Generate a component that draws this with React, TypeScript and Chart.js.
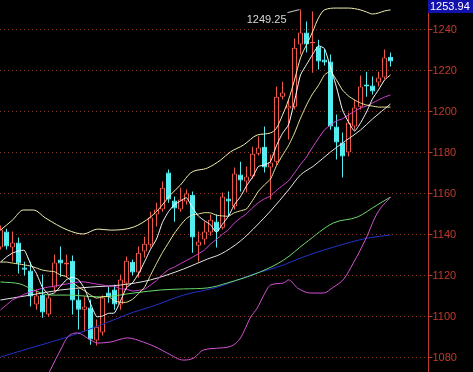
import React, { useEffect, useRef } from "react";
import { Chart, registerables } from "chart.js";

Chart.register(...registerables);

// ---- candle data (one entry per trading day) ----
const opens = [
  1133.2, 1141.0, 1133.2, 1135.6, 1123.4, 1122.0, 1105.4, 1110.2, 1100.5, 1113.7,
  1127.3, 1124.9, 1126.8, 1107.8, 1102.9, 1103.9, 1087.8, 1091.7, 1111.2, 1112.7,
  1105.4, 1115.6, 1126.3, 1121.0, 1131.2, 1134.6, 1149.3, 1151.7, 1169.8, 1156.1,
  1151.7, 1155.6, 1159.0, 1134.1, 1137.1, 1140.5, 1145.9, 1142.9, 1157.1, 1153.2,
  1168.8, 1165.4, 1167.8, 1179.0, 1182.4, 1172.2, 1175.1, 1206.8, 1201.0, 1201.9,
  1232.2, 1238.1, 1232.7, 1231.2, 1224.9, 1223.9, 1192.2, 1184.4, 1179.5, 1192.2,
  1201.9, 1212.7, 1212.2, 1213.7, 1216.1, 1226.3,
];
const closes = [
  1142.0, 1133.7, 1135.6, 1125.4, 1122.4, 1109.3, 1109.8, 1101.5, 1108.8, 1125.9,
  1125.4, 1125.9, 1107.3, 1102.9, 1104.4, 1088.3, 1094.6, 1108.8, 1109.3, 1105.4,
  1117.6, 1126.8, 1121.0, 1130.7, 1135.1, 1147.8, 1151.7, 1162.4, 1156.6, 1152.2,
  1156.6, 1159.5, 1138.1, 1136.1, 1141.0, 1146.8, 1141.0, 1158.1, 1155.6, 1169.3,
  1165.9, 1167.8, 1179.0, 1182.0, 1172.2, 1174.7, 1206.8, 1208.8, 1202.4, 1230.7,
  1238.1, 1232.2, 1233.4, 1223.9, 1223.4, 1192.2, 1184.4, 1177.6, 1194.2, 1201.5,
  1211.7, 1211.7, 1209.3, 1216.1, 1225.9, 1223.9,
];
const highs = [
  1143.9, 1142.4, 1141.0, 1138.1, 1126.3, 1126.3, 1112.7, 1120.0, 1110.2, 1129.8,
  1133.7, 1129.8, 1129.3, 1112.7, 1109.3, 1107.8, 1098.1, 1109.8, 1114.2, 1115.1,
  1120.0, 1128.8, 1127.3, 1133.7, 1138.5, 1150.7, 1155.1, 1165.4, 1171.2, 1158.1,
  1162.4, 1161.5, 1160.5, 1141.0, 1145.9, 1149.3, 1149.3, 1160.0, 1160.5, 1172.2,
  1175.1, 1172.7, 1182.4, 1187.3, 1192.2, 1178.5, 1211.7, 1214.1, 1205.4, 1235.1,
  1249.25, 1243.4, 1248.3, 1234.6, 1229.8, 1227.3, 1198.1, 1189.3, 1199.0, 1205.4,
  1217.1, 1219.0, 1216.6, 1219.0, 1229.8, 1228.3,
];
const lows = [
  1132.2, 1132.2, 1126.3, 1120.5, 1119.5, 1104.4, 1102.9, 1099.0, 1099.5, 1111.7,
  1119.0, 1118.5, 1100.5, 1093.2, 1092.2, 1085.8, 1085.4, 1090.3, 1106.3, 1102.9,
  1102.9, 1112.7, 1119.5, 1118.5, 1128.3, 1133.2, 1143.4, 1150.7, 1155.1, 1145.8,
  1150.7, 1154.2, 1130.7, 1126.3, 1134.6, 1139.0, 1133.2, 1142.0, 1148.3, 1151.7,
  1160.5, 1160.0, 1166.8, 1178.1, 1169.8, 1156.6, 1173.6, 1205.4, 1185.9, 1200.5,
  1227.3, 1228.3, 1218.5, 1220.0, 1222.0, 1190.7, 1176.1, 1167.3, 1177.6, 1190.7,
  1200.5, 1206.8, 1207.8, 1211.7, 1215.1, 1221.5,
];

// ---- moving averages read per day ----
const ma5 = [
  1126.1, 1128.6, 1130.5, 1131.5, 1131.8, 1125.3, 1120.5, 1113.7, 1110.4, 1111.1,
  1114.3, 1117.5, 1118.7, 1117.5, 1113.2, 1105.8, 1099.5, 1099.8, 1101.1, 1101.3,
  1107.1, 1113.6, 1116.0, 1120.3, 1126.2, 1132.3, 1137.3, 1145.5, 1150.7, 1154.1,
  1155.9, 1157.5, 1152.6, 1148.5, 1146.3, 1144.3, 1140.6, 1144.6, 1148.5, 1154.2,
  1158.0, 1163.3, 1167.5, 1172.8, 1173.4, 1175.1, 1182.9, 1188.9, 1193.0, 1204.7,
  1217.4, 1222.4, 1227.3, 1231.6, 1230.2, 1221.0, 1211.4, 1200.3, 1194.4, 1190.0,
  1193.9, 1199.3, 1205.7, 1210.1, 1214.9, 1217.4,
];
const ma10 = [
  1126.1, 1126.1, 1125.6, 1125.2, 1124.7, 1124.2, 1123.2, 1122.2, 1121.7, 1121.4,
  1119.8, 1119.0, 1116.2, 1113.9, 1112.1, 1110.0, 1108.5, 1109.2, 1109.3, 1107.2,
  1106.5, 1106.5, 1107.9, 1110.7, 1113.8, 1119.7, 1125.4, 1130.8, 1135.5, 1140.2,
  1144.1, 1147.4, 1149.1, 1149.6, 1150.2, 1150.1, 1149.0, 1148.6, 1148.5, 1150.2,
  1151.1, 1152.0, 1156.1, 1160.7, 1163.8, 1166.6, 1173.1, 1178.2, 1182.9, 1189.0,
  1196.3, 1202.7, 1208.1, 1212.3, 1217.4, 1219.2, 1214.9, 1210.0, 1207.1, 1205.2,
  1203.7, 1202.7, 1202.2, 1201.7, 1201.7, 1201.7,
];
const ma20 = [
  1102.7, 1105.2, 1107.6, 1109.0, 1110.5, 1111.5, 1112.4, 1113.4, 1113.9, 1114.4,
  1114.9, 1115.4, 1115.9, 1116.4, 1116.4, 1115.9, 1115.4, 1114.9, 1114.4, 1114.3,
  1113.1, 1112.8, 1112.0, 1112.3, 1112.9, 1114.9, 1117.0, 1120.0, 1122.4, 1123.7,
  1125.3, 1126.9, 1128.5, 1130.2, 1132.0, 1134.9, 1137.2, 1139.7, 1142.0, 1145.2,
  1147.6, 1149.7, 1152.6, 1155.1, 1157.0, 1158.3, 1161.1, 1163.4, 1165.7, 1169.6,
  1173.7, 1177.3, 1182.1, 1186.5, 1190.6, 1192.9, 1195.0, 1196.0, 1197.9, 1199.6,
  1201.3, 1202.2, 1203.7, 1205.2, 1206.6, 1207.6,
];

// ---- sparse readings (day position, value) ----
const bollUpperDay = [0, 2, 3.8, 5.5, 7.5, 11.2, 13.8, 16.2, 18.3, 22.2, 25, 26.7, 28.3, 30, 31.7, 34.5, 36.7, 38.3, 40.5, 42.8, 45, 46, 47, 48, 49, 50, 51, 52, 53, 54, 56, 58, 60, 61, 62, 63, 64, 65];
const bollUpper = [1141.7, 1146.6, 1151.5, 1151.5, 1147.6, 1141.7, 1139.8, 1142.2, 1141.7, 1143.2, 1148.1, 1153.0, 1158.8, 1163.7, 1169.6, 1172.0, 1175.9, 1179.8, 1183.2, 1188.1, 1189.1, 1191.5, 1197.8, 1205.2, 1214.9, 1225.7, 1232.0, 1238.3, 1245.2, 1249.1, 1250.0, 1250.0, 1249.1, 1248.1, 1247.1, 1247.6, 1248.6, 1249.1];
const bollMidDay = [0, 5, 10, 15, 20, 25, 30.5, 34.5, 36.7, 40, 42.8, 45, 48, 50, 52.2, 55, 57.5, 60, 62, 65];
const bollMid = [1107.6, 1110.0, 1112.5, 1113.9, 1114.9, 1117.4, 1122.7, 1127.6, 1130.0, 1136.4, 1144.2, 1151.0, 1161.3, 1168.6, 1173.0, 1179.8, 1185.2, 1190.5, 1195.9, 1203.2];
const bollLowerDay = [0, 3.3, 6, 8.3, 10, 11.2, 12.8, 15, 16.2, 18.3, 21.2, 23.8, 26.2, 27.8, 30.5, 32.2, 33.8, 36.7, 38.8, 40, 41.7, 42.8, 43.8, 45, 47.2, 48, 49.5, 51.7, 53.8, 55.5, 57.2, 58.8, 60.8, 62.8, 65];
const bollLower = [1049.1, 1053.9, 1058.8, 1073.4, 1083.2, 1089.6, 1091.5, 1088.1, 1086.6, 1087.1, 1089.1, 1087.1, 1084.2, 1081.7, 1078.3, 1079.3, 1083.2, 1084.2, 1085.6, 1089.1, 1099.3, 1103.7, 1109.5, 1114.9, 1115.9, 1117.4, 1113.5, 1111.0, 1111.0, 1113.9, 1117.8, 1125.6, 1136.9, 1150.0, 1157.8];
const ma60Day = [0, 3.3, 5.5, 8.3, 11.2, 16.7, 22.2, 26.7, 30.5, 34.5, 37.8, 43.3, 47.2, 50.8, 55.5, 59.5, 62.8, 65];
const ma60 = [1116.4, 1115.4, 1112.5, 1110.0, 1110.0, 1109.1, 1111.0, 1112.5, 1113.0, 1113.5, 1115.9, 1121.3, 1127.1, 1135.4, 1145.2, 1148.1, 1154.0, 1157.8];
const ma120Day = [0, 5.5, 11.2, 16.7, 22.2, 25, 30.5, 36.2, 41.7, 47.2, 50, 55.5, 61.2, 65];
const ma120 = [1079.8, 1084.6, 1089.6, 1095.4, 1101.7, 1104.2, 1110.0, 1113.9, 1119.8, 1124.7, 1128.1, 1133.4, 1137.8, 1139.3];

// ---- axis ----
const yTicks = [1080, 1100, 1120, 1140, 1160, 1180, 1200, 1220, 1240];
const axisTop = 1253.94;
const axisBottom = 1072.48;
const dayMin = -0.0833;
const dayMax = 71.25;

const UP = "#f0584c";
const DOWN = "#54eef2";
const AXIS = "#c23a2a";
const GRID = "#8a3626";
const FONT = "11px 'Liberation Sans', Arial, sans-serif";

const days = opens.map((_, i) => i);
const isUp = (i: number) => closes[i] >= opens[i];

const pairs = (xs: number[], ys: number[]) => xs.map((x, i) => ({ x, y: ys[i] }));

const lineDs = (label: string, data: { x: number; y: number }[], color: string, order: number, smooth = true) => ({
  type: "line" as const,
  label,
  data,
  borderColor: color,
  borderWidth: 1,
  pointRadius: 0,
  fill: false,
  order,
  cubicInterpolationMode: smooth ? ("monotone" as const) : ("default" as const),
  tension: smooth ? 0.4 : 0.15,
});

const tdxPlugin = {
  id: "tdxAxis",
  beforeDatasetsDraw(chart: any) {
    const { ctx, chartArea, scales } = chart;
    const y = scales.y;
    ctx.save();
    ctx.strokeStyle = GRID;
    ctx.lineWidth = 1;
    ctx.setLineDash([1, 3]);
    yTicks.forEach((v) => {
      const py = Math.round(y.getPixelForValue(v)) + 0.5;
      ctx.beginPath();
      ctx.moveTo(chartArea.left, py);
      ctx.lineTo(chartArea.right, py);
      ctx.stroke();
    });
    ctx.restore();
  },
  afterDatasetsDraw(chart: any) {
    const { ctx, chartArea, scales, width, height } = chart;
    const y = scales.y;
    const x = scales.x;
    ctx.save();
    const ax = chartArea.right + 0.5;
    ctx.strokeStyle = AXIS;
    ctx.lineWidth = 1;
    ctx.beginPath();
    ctx.moveTo(ax, 0);
    ctx.lineTo(ax, height);
    ctx.stroke();
    ctx.font = FONT;
    ctx.fillStyle = AXIS;
    ctx.textAlign = "left";
    ctx.textBaseline = "middle";
    yTicks.forEach((v) => {
      const py = Math.round(y.getPixelForValue(v)) + 0.5;
      ctx.beginPath();
      ctx.moveTo(ax, py);
      ctx.lineTo(ax + 4, py);
      ctx.stroke();
      ctx.fillText(String(v), ax + 4, py + 0.5);
    });
    ctx.fillStyle = "#1212aa";
    ctx.fillRect(chartArea.right, 0, width - chartArea.right, 13);
    ctx.fillStyle = "#ffffff";
    ctx.textBaseline = "middle";
    ctx.fillText(axisTop.toFixed(2), chartArea.right + 2, 7);
    let hi = 0;
    highs.forEach((h, i) => { if (h > highs[hi]) hi = i; });
    const hx = x.getPixelForValue(hi);
    const hy = y.getPixelForValue(highs[hi]);
    ctx.strokeStyle = "#cfcfcf";
    ctx.beginPath();
    ctx.moveTo(hx - 13, hy + 3);
    ctx.lineTo(hx - 1, hy);
    ctx.stroke();
    ctx.fillStyle = "#d8d8d8";
    ctx.textAlign = "right";
    ctx.fillText(highs[hi].toFixed(2), hx - 14, hy + 10.5);
    ctx.restore();
  },
};

export default function App() {
  const ref = useRef<HTMLCanvasElement>(null);
  useEffect(() => {
    document.body.style.margin = "0";
    document.body.style.background = "#000";
    const canvas = ref.current;
    if (!canvas) return;
    const chart = new Chart(canvas, {
      type: "bar",
      data: {
        datasets: [
          lineDs("MA5", pairs(days, ma5), "#ffffff", 2, false),
          lineDs("MA10", pairs(days, ma10), "#f0eca0", 3, false),
          lineDs("MA20", pairs(days, ma20), "#d848d8", 4, false),
          lineDs("BOLL", pairs(bollMidDay, bollMid), "#e4e4e4", 5),
          lineDs("UB", pairs(bollUpperDay, bollUpper), "#f2eeb0", 6),
          lineDs("LB", pairs(bollLowerDay, bollLower), "#d452d4", 7),
          lineDs("MA60", pairs(ma60Day, ma60), "#6cd86c", 8),
          lineDs("MA120", pairs(ma120Day, ma120), "#2232c8", 9),
          {
            type: "bar" as const,
            label: "body",
            data: days.map((i) => ({ x: i, y: [opens[i], closes[i]] })) as any,
            backgroundColor: days.map((i) => (isUp(i) ? "#000000" : DOWN)),
            borderColor: days.map((i) => (isUp(i) ? UP : DOWN)),
            borderWidth: 1,
            borderSkipped: false,
            barThickness: 5,
            grouped: false,
            inflateAmount: 0,
            order: 20,
          },
          {
            type: "bar" as const,
            label: "wick",
            data: days.map((i) => ({ x: i, y: [lows[i], highs[i]] })) as any,
            backgroundColor: days.map((i) => (isUp(i) ? UP : DOWN)),
            borderWidth: 0,
            barThickness: 1,
            grouped: false,
            inflateAmount: 0,
            order: 21,
          },
        ] as any,
      },
      options: {
        animation: false,
        responsive: false,
        devicePixelRatio: 1,
        events: [],
        layout: { padding: { left: 0, right: 45, top: 0, bottom: 0 } },
        plugins: { legend: { display: false }, tooltip: { enabled: false } },
        scales: {
          x: { type: "linear", min: dayMin, max: dayMax, display: false, offset: false, grid: { offset: false } },
          y: { type: "linear", min: axisBottom, max: axisTop, display: false },
        },
      } as any,
      plugins: [tdxPlugin],
    });
    return () => chart.destroy();
  }, []);
  return (
    <div style={{ position: "fixed", left: 0, top: 0, width: 473, height: 372, background: "#000" }}>
      <canvas ref={ref} width={473} height={372} style={{ display: "block", width: 473, height: 372 }} />
    </div>
  );
}
